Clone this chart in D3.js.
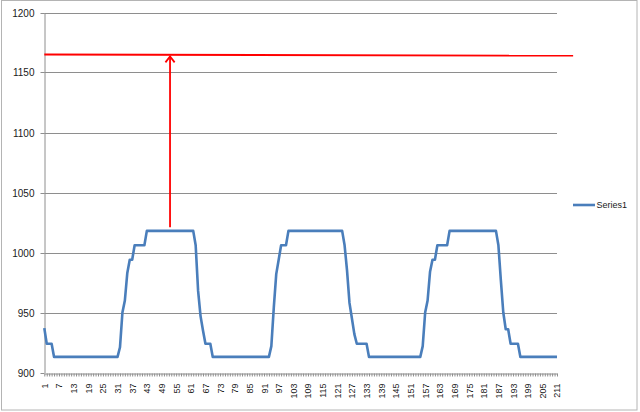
<!DOCTYPE html>
<html>
<head>
<meta charset="utf-8">
<script src="https://cdn.jsdelivr.net/npm/d3@7"></script>
<style>
  html, body { margin: 0; padding: 0; background: #fff; }
  svg { display: block; }
  text { font-family: "Liberation Sans", Arial, sans-serif; fill: #1a1a1a; }
</style>
</head>
<body>
<svg id="chart" width="640" height="412"></svg>
<script>
// ---- data ----
const seriesName = "Series1";
const series1 = [
  937,924,924,924,913,913,913,913,913,913,
  913,913,913,913,913,913,913,913,913,913,
  913,913,913,913,913,913,913,913,913,913,
  913,921,950,960,983,994,994,1006,1006,1006,
  1006,1006,1018,1018,1018,1018,1018,1018,1018,1018,
  1018,1018,1018,1018,1018,1018,1018,1018,1018,1018,
  1018,1018,1006,968,947,935,924,924,924,913,
  913,913,913,913,913,913,913,913,913,913,
  913,913,913,913,913,913,913,913,913,913,
  913,913,913,922,954,982,994,1006,1006,1006,
  1018,1018,1018,1018,1018,1018,1018,1018,1018,1018,
  1018,1018,1018,1018,1018,1018,1018,1018,1018,1018,
  1018,1018,1018,1006,985,958,945,932,924,924,
  924,924,924,913,913,913,913,913,913,913,
  913,913,913,913,913,913,913,913,913,913,
  913,913,913,913,913,922,950,960,984,994,
  994,1006,1006,1006,1006,1006,1018,1018,1018,1018,
  1018,1018,1018,1018,1018,1018,1018,1018,1018,1018,
  1018,1018,1018,1018,1018,1018,1006,977,950,936,
  936,924,924,924,924,913,913,913,913,913,
  913,913,913,913,913,913,913,913,913,913,
  913
];
const categories = series1.map((d, i) => i + 1);
const xTickLabels = [1,7,13,19,25,31,37,43,49,55,61,67,73,79,85,91,97,103,109,115,121,127,133,139,145,151,157,163,169,175,181,187,193,199,205,211];
const yTicks = [900,950,1000,1050,1100,1150,1200];
// red annotation: horizontal reference line (category index, value) and vertical arrow
const refLineIdx = [1, 217.6];
const refLineVal = [1165, 1164];
const arrowIdx = [52.5, 52.5];
const arrowVal = [1021, 1163.4];

// ---- layout ----
const svg = d3.select("#chart");
const plot = { left: 44.3, right: 557, top: 12.5, bottom: 372.5 };

const x = d3.scaleLinear().domain([1, categories.length]).range([plot.left, plot.right]);
const y = d3.scaleLinear().domain([900, 1200]).range([plot.bottom, plot.top]);

// outer frame
svg.append("rect")
  .attr("x", 1.5).attr("y", 0.5).attr("width", 635.5).attr("height", 409.5)
  .attr("fill", "none").attr("stroke", "#b4b4b4").attr("stroke-width", 1);

const gridColor = "#8e8e8e";

// gridlines
svg.append("g").selectAll("line")
  .data(yTicks.filter(d => d !== 900))
  .join("line")
  .attr("x1", plot.left).attr("x2", plot.right)
  .attr("y1", d => Math.round(y(d)) + 0.5).attr("y2", d => Math.round(y(d)) + 0.5)
  .attr("stroke", gridColor).attr("stroke-width", 1);

// y axis
const yAxis = svg.append("g")
  .attr("transform", `translate(${Math.round(plot.left) + 0.5},0)`)
  .call(d3.axisLeft(y).tickValues(yTicks).tickSize(4).tickSizeOuter(0).tickPadding(6).tickFormat(d3.format("d")));
yAxis.select(".domain").attr("stroke", gridColor);
yAxis.selectAll(".tick line").attr("stroke", gridColor);
yAxis.selectAll(".tick").attr("transform", d => `translate(0,${Math.round(y(d)) + 0.5})`);
yAxis.selectAll("text").attr("font-size", 10).attr("fill", "#1a1a1a")
  .style("font-family", '"Liberation Sans", Arial, sans-serif');

// x axis
const labelSet = new Set(xTickLabels);
const xAxis = svg.append("g")
  .attr("transform", `translate(0,${Math.round(plot.bottom) + 0.5})`)
  .call(d3.axisBottom(x).tickValues(categories).tickSize(3).tickSizeOuter(0)
    .tickFormat(d => labelSet.has(d) ? String(d) : ""));
xAxis.select(".domain").attr("stroke", gridColor);
xAxis.selectAll(".tick line").attr("stroke", gridColor);
xAxis.selectAll("text")
  .attr("font-size", 9)
  .attr("fill", "#1a1a1a")
  .style("font-family", '"Liberation Sans", Arial, sans-serif')
  .attr("text-anchor", "end")
  .attr("transform", "rotate(-90)")
  .attr("x", -10)
  .attr("y", 0)
  .attr("dy", "0.33em");

// series line
const line = d3.line().x((d, i) => x(categories[i])).y(d => y(d));
svg.append("path")
  .datum(series1)
  .attr("d", line)
  .attr("fill", "none")
  .attr("stroke", "#4a7ebb")
  .attr("stroke-width", 2.6)
  .attr("stroke-linejoin", "round");

// red reference line
svg.append("line")
  .attr("x1", x(refLineIdx[0])).attr("y1", y(refLineVal[0]))
  .attr("x2", x(refLineIdx[1])).attr("y2", y(refLineVal[1]))
  .attr("stroke", "#ff0000").attr("stroke-width", 1.8);

// red arrow
const ax = x(arrowIdx[0]);
const ay0 = y(arrowVal[0]), ay1 = y(arrowVal[1]);
svg.append("line")
  .attr("x1", ax).attr("y1", ay0).attr("x2", ax).attr("y2", ay1 + 1)
  .attr("stroke", "#ff0000").attr("stroke-width", 1.8);
svg.append("path")
  .attr("d", `M${ax - 4.6},${ay1 + 6} L${ax},${ay1} L${ax + 4.6},${ay1 + 6}`)
  .attr("fill", "none").attr("stroke", "#ff0000").attr("stroke-width", 1.8)
  .attr("stroke-linejoin", "miter");

// legend
const lg = svg.append("g").attr("transform", "translate(573,205)");
lg.append("line").attr("x1", 0).attr("x2", 22).attr("y1", 0).attr("y2", 0)
  .attr("stroke", "#4a7ebb").attr("stroke-width", 2.6);
lg.append("text").attr("x", 23.5).attr("y", 0).attr("dy", "0.35em")
  .attr("font-size", 9).text(seriesName);
</script>
</body>
</html>
